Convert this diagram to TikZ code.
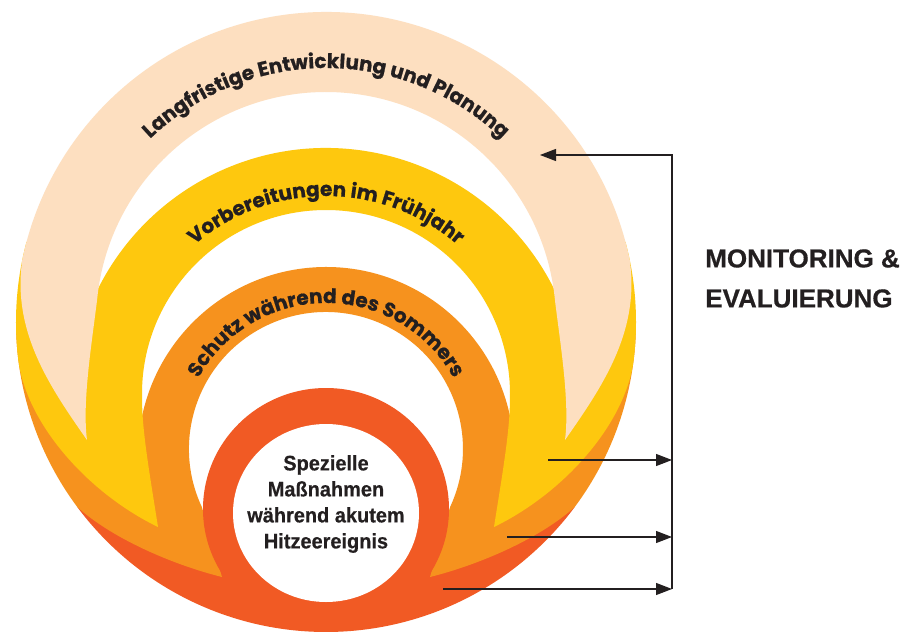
\documentclass[tikz,border=0pt]{standalone}
\usepackage{fontspec}
\usetikzlibrary{arrows.meta,decorations.text}
\newfontfamily\arcfont{Poppins}[BoldFeatures={FakeBold=0.8}]
\newfontfamily\gotfont[FakeStretch=0.95,BoldFeatures={FakeBold=0.5}]{Liberation Sans}
\newfontfamily\monfont[BoldFeatures={FakeBold=0.5}]{Liberation Sans}
\definecolor{peach}{HTML}{FDDFC0}
\definecolor{sun}{HTML}{FEC80E}
\definecolor{amber}{HTML}{F6921E}
\definecolor{blaze}{HTML}{F15A24}
\definecolor{ink}{HTML}{231F20}
\newcommand{\arcstyle}{\arcfont\bfseries\fontsize{15}{16}\selectfont}
\newcommand{\heatstyle}{\gotfont\bfseries\fontsize{15.75}{19.5}\selectfont}
\newcommand{\monstyle}{\monfont\bfseries\fontsize{19.5}{30}\selectfont}

\begin{document}
\begin{tikzpicture}[x=0.75pt,y=0.75pt,
  arctext/.style={decorate,decoration={text along path,text align=center,text color=ink,text={|\arcstyle|#1}}},
  fbline/.style={ink,line width=0.9pt},
  fbarrow/.style={fbline,-{Triangle[length=12pt,width=9pt]}}]

\path[fill=white,use as bounding box] (-326,-310) rectangle (583,322);

\fill[blaze] (216.6:310) arc[start angle=216.6,end angle=323.4,radius=310]
  -- (110,-225) -- (-110,-225) -- cycle;

\fill[amber] (182:310) arc[start angle=182,end angle=216.6,radius=310]
  .. controls (-216,-215) and (-156,-242) .. (-104,-255)
  -- (-124.2,-184.9) arc[start angle=205,end angle=-25,radius=137]
  -- (104,-255)
  .. controls (156,-242) and (216,-215) .. (323.4:310)
  arc[start angle=-36.6,end angle=-2,radius=310]
  -- (187,-113.35) arc[start angle=6,end angle=174,radius=188]
  -- cycle;

\fill[sun] (165:310) arc[start angle=165,end angle=187,radius=310]
  .. controls (-300,-100) and (-240,-170) .. (-168,-205)
  .. controls (-175,-160) and (-184,-110) .. (-183.89,-78.42)
  arc[start angle=182,end angle=-2,radius=184]
  .. controls (184,-110) and (175,-160) .. (168,-205)
  .. controls (240,-170) and (300,-100) .. (-7:310)
  arc[start angle=-7,end angle=15,radius=310]
  -- (231.1,26.77) arc[start angle=25,end angle=155,radius=255]
  -- cycle;

\fill[peach] (11.5:310) arc[start angle=11.5,end angle=168.5,radius=310]
  .. controls (-314,-10) and (-276,-65) .. (-239,-118)
  .. controls (-244,-80) and (-234,-20) .. (174.5:230)
  arc[start angle=174.5,end angle=5.5,radius=230]
  .. controls (234,-20) and (244,-80) .. (239,-118)
  .. controls (276,-65) and (314,-10) .. (11.5:310)
  -- cycle;

\fill[blaze] (0,-187) ellipse[x radius=123,y radius=121];
\fill[white] (0,-191) ellipse[x radius=93,y radius=89];

\path[arctext={Langfristige Entwicklung und Planung}]
  (140:254) arc[start angle=140,end angle=40,radius=254];
\path[arctext={Vorbereitungen im Frühjahr}]
  ([shift={(0,-76)}]140:202) arc[start angle=140,end angle=40,radius=202];
\path[arctext={Schutz während des Sommers}]
  ([shift={(0,-127)}]155:146) arc[start angle=155,end angle=25,radius=146];

\node[align=center,font=\heatstyle,text=ink,inner sep=0] (heat) at (0,-182)
  {Spezielle\\Maßnahmen\\während akutem\\Hitzeereignis};

\node[anchor=north west,align=left,font=\monstyle,text=ink,inner sep=0] (monitor) at (379,73)
  {MONITORING \&\\EVALUIERUNG};

\coordinate (bustop) at (346,167);
\coordinate (busbot) at (346,-267);
\coordinate (peachin) at (214,167);
\coordinate (sunout) at (222,-138);
\coordinate (amberout) at (181,-215);
\coordinate (blazeout) at (117,-267);

\draw[fbarrow] (sunout) -- (sunout -| bustop);
\draw[fbarrow] (amberout) -- (amberout -| bustop);
\draw[fbarrow] (blazeout) -- (busbot);
\draw[fbarrow] (busbot) -- (bustop) -- (peachin);

\end{tikzpicture}
\end{document}
